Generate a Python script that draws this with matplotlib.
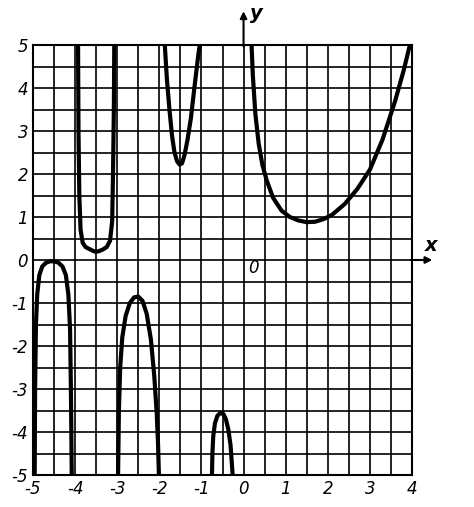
import matplotlib
matplotlib.use("Agg")
import matplotlib.pyplot as plt
from matplotlib.ticker import MultipleLocator

# branches (x, y)
b1_x = [-4.96, -4.95, -4.93, -4.90, -4.85, -4.78, -4.70, -4.60, -4.50, -4.40, -4.30, -4.22, -4.16, -4.12, -4.10, -4.08]
b1_y = [-5.0, -3.0, -1.5, -0.8, -0.35, -0.15, -0.07, -0.03, -0.03, -0.06, -0.15, -0.35, -0.8, -1.6, -3.0, -5.0]
b2_x = [-3.93, -3.92, -3.90, -3.87, -3.82, -3.75, -3.65, -3.55, -3.45, -3.35, -3.25, -3.17, -3.12, -3.10, -3.08, -3.07]
b2_y = [5.0, 3.0, 1.5, 0.7, 0.4, 0.3, 0.25, 0.2, 0.2, 0.24, 0.3, 0.45, 0.9, 2.0, 3.5, 5.0]
b3_x = [-2.98, -2.96, -2.93, -2.88, -2.80, -2.70, -2.60, -2.50, -2.40, -2.30, -2.20, -2.12, -2.06, -2.03, -2.01]
b3_y = [-5.0, -3.5, -2.5, -1.8, -1.3, -1.0, -0.87, -0.85, -0.95, -1.25, -1.85, -2.7, -3.6, -4.3, -5.0]
b4_x = [-1.87, -1.82, -1.76, -1.70, -1.64, -1.58, -1.52, -1.46, -1.40, -1.33, -1.25, -1.18, -1.12, -1.07, -1.04]
b4_y = [5.0, 4.2, 3.5, 2.9, 2.5, 2.3, 2.22, 2.25, 2.45, 2.8, 3.3, 3.9, 4.4, 4.8, 5.0]
b5_x = [-0.75, -0.74, -0.72, -0.68, -0.62, -0.55, -0.48, -0.42, -0.36, -0.31, -0.28, -0.26]
b5_y = [-5.0, -4.5, -4.1, -3.8, -3.62, -3.56, -3.58, -3.7, -3.95, -4.3, -4.7, -5.0]
b6_x = [0.19, 0.22, 0.28, 0.36, 0.45, 0.55, 0.70, 0.90, 1.10, 1.30, 1.50, 1.70, 1.90, 2.10, 2.40, 2.70, 3.00, 3.30, 3.60, 3.80, 3.95]
b6_y = [5.0, 4.3, 3.4, 2.7, 2.2, 1.85, 1.45, 1.15, 1.0, 0.92, 0.88, 0.89, 0.95, 1.05, 1.3, 1.65, 2.1, 2.8, 3.7, 4.4, 5.0]
branches = [(b1_x, b1_y), (b2_x, b2_y), (b3_x, b3_y), (b4_x, b4_y), (b5_x, b5_y), (b6_x, b6_y)]
xticks = [-5, -4, -3, -2, -1, 0, 1, 2, 3, 4]
yticks = [-5, -4, -3, -2, -1, 0, 1, 2, 3, 4, 5]

fig = plt.figure(figsize=(4.74, 5.07), dpi=100)
ax = fig.add_axes([33/474, 32/507, 379/474, 430/507])
ax.set_xlim(-5, 4)
ax.set_ylim(-5, 5)
ax.xaxis.set_minor_locator(MultipleLocator(0.5))
ax.yaxis.set_minor_locator(MultipleLocator(0.5))
ax.set_xticks(xticks)
ax.set_yticks(yticks)
ax.set_xticklabels([str(t) if t != 0 else "0" for t in xticks], fontsize=12, style="italic")
ax.set_yticklabels([str(t) for t in yticks], fontsize=12, style="italic")
ax.grid(True, which="both", color="black", lw=1.2)
ax.tick_params(which="both", length=0)
for s in ax.spines.values():
    s.set_linewidth(1.5)
for bx, by in branches:
    ax.plot(bx, by, color="black", lw=3, solid_capstyle="butt")
ax.set_axisbelow(True)
# axes arrows
ax.annotate("", xy=(4.55, 0), xytext=(3.9, 0), xycoords="data", annotation_clip=False,
            arrowprops=dict(arrowstyle="-|>", color="black", lw=1.5))
ax.annotate("", xy=(0, 5.85), xytext=(0, 4.9), xycoords="data", annotation_clip=False,
            arrowprops=dict(arrowstyle="-|>", color="black", lw=1.5))
ax.text(4.45, 0.2, "x", fontsize=14, style="italic", weight="bold", ha="center")
ax.text(0.15, 5.6, "y", fontsize=14, style="italic", weight="bold")
ax.text(0.1, -0.3, "0", fontsize=12, style="italic")
fig.savefig("out.png", dpi=100)
